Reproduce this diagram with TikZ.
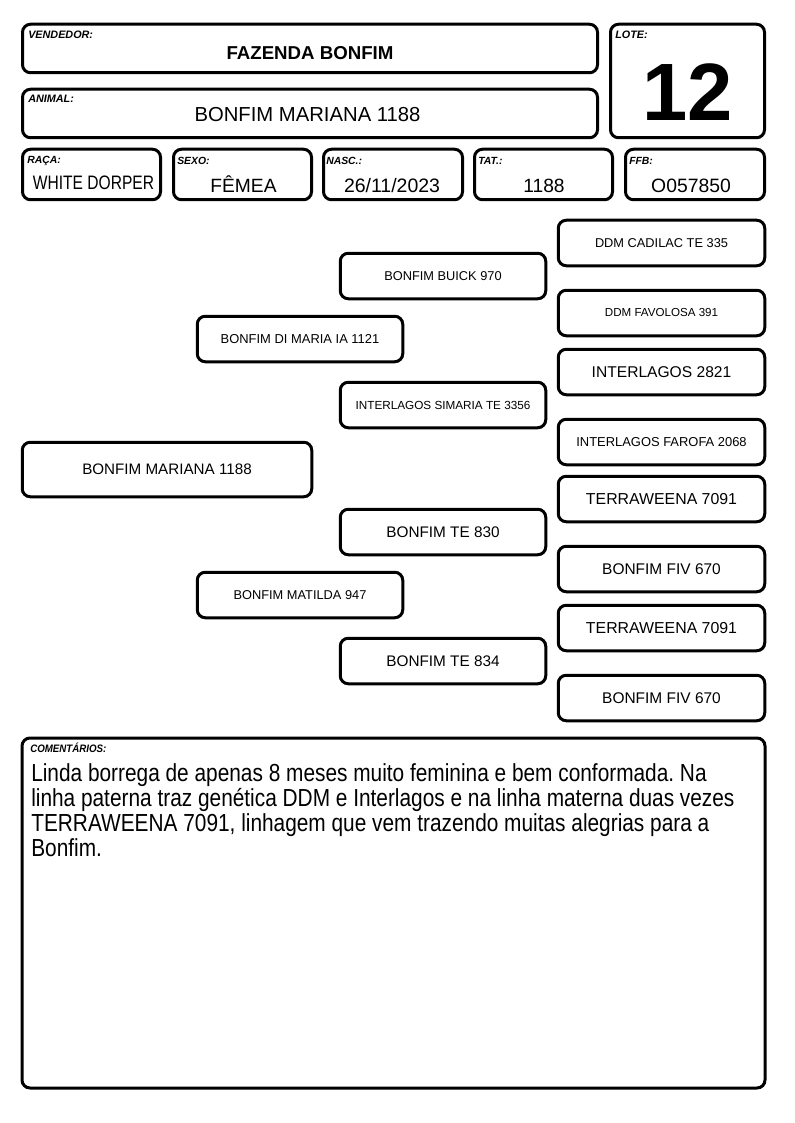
\documentclass[tikz,border=0pt]{standalone}
\usepackage{fontspec}
\setmainfont{Liberation Sans}
\frenchspacing
\newcommand{\fs}[1]{\fontsize{#1}{#1}\selectfont}
\tikzset{
  card/.style={draw, line width=2.25pt, rounded corners=6pt, inner sep=0pt, fill=white},
  wh/.style 2 args={minimum width=#1*0.75pt, minimum height=#2*0.75pt},
  lbl/.style={font=\bfseries\itshape\fs{8.1}, anchor=base west, inner sep=0pt},
  val/.style={anchor=base, inner sep=0pt},
  ped/.style={card, align=center},
}
\begin{document}
\begin{tikzpicture}[x=0.75pt, y=-0.75pt]
\useasboundingbox (0,0) rectangle (794,1123);
% header boxes
\node[card, wh={575}{48.5}] (vend) at (310,48.5) {};
\node[card, wh={575}{48.5}] (anim) at (310,113.5) {};
\node[card, wh={154}{113.5}] (lote) at (687.5,81) {};
\node[lbl] (vendl) at (28,38.5) {VENDEDOR:};
\node[lbl] (animl) at (28,102.5) {ANIMAL:};
\node[lbl] (lotel) at (615,38.5) {LOTE:};
\node[val, font=\bfseries\fs{14}] (vendv) at (310,60) {FAZENDA BONFIM};
\node[val, font=\fs{15.2}] (animv) at (307.5,122) {BONFIM MARIANA 1188};
\node[val, font=\bfseries\fs{61}] (lotev) at (688,121) {12};
% row boxes
\node[card, wh={138}{50.5}] (raca) at (91.5,174.5) {};
\node[card, wh={138}{50.5}] (sexo) at (242.5,174.5) {};
\node[card, wh={139}{50.5}] (nasc) at (393,174.5) {};
\node[card, wh={138}{50.5}] (tat) at (543.5,174.5) {};
\node[card, wh={139}{50.5}] (ffb) at (695,174.5) {};
\node[lbl, font=\bfseries\itshape\fs{7.8}] (racal) at (27,164) {RAÇA:};
\node[lbl, font=\bfseries\itshape\fs{7.8}] (sexol) at (177,164.5) {SEXO:};
\node[lbl, font=\bfseries\itshape\fs{7.8}] (nascl) at (326,164.5) {NASC.:};
\node[lbl, font=\bfseries\itshape\fs{7.8}] (tatl) at (478,164.5) {TAT.:};
\node[lbl, font=\bfseries\itshape\fs{7.8}] (ffbl) at (629,164.5) {FFB:};
\node[val, font=\fs{14.6}] (racav) at (93.5,190) {\scalebox{0.8}[1]{WHITE DORPER}};
\node[val, font=\fs{14.4}] (sexov) at (243.5,193) {FÊMEA};
\node[val, font=\fs{14.6}] (nascv) at (392,193) {26/11/2023};
\node[val, font=\fs{14.4}] (tatv) at (544,193) {1188};
\node[val, font=\fs{14.5}] (ffbv) at (691,193) {O057850};
% pedigree
\node[card, wh={289.5}{54.5}, font=\fs{11.4}] (p0) at (167,469.5) {BONFIM MARIANA 1188};
\node[ped, wh={205.5}{45.5}, font=\fs{9.7}] (p1) at (300,339) {BONFIM DI MARIA IA 1121};
\node[ped, wh={205.5}{45.5}, font=\fs{9.6}] (p2) at (300,595) {BONFIM MATILDA 947};
\node[ped, wh={205.5}{45.5}, font=\fs{9.6}] (p3) at (443,276) {BONFIM BUICK 970};
\node[ped, wh={205.5}{45.5}, font=\fs{8.8}] (p4) at (443,405) {INTERLAGOS SIMARIA TE 3356};
\node[ped, wh={205.5}{45.5}, font=\fs{11.5}] (p5) at (443,532) {BONFIM TE 830};
\node[ped, wh={205.5}{45.5}, font=\fs{11.5}] (p6) at (443,661) {BONFIM TE 834};
\node[ped, wh={206.5}{45.5}, font=\fs{9.6}] (p7) at (661.5,243) {DDM CADILAC TE 335};
\node[ped, wh={206.5}{45.5}, font=\fs{8.7}] (p8) at (661.5,313) {DDM FAVOLOSA 391};
\node[ped, wh={206.5}{45.5}, font=\fs{11.7}] (p9) at (661.5,372) {INTERLAGOS 2821};
\node[ped, wh={206.5}{45.5}, font=\fs{9.7}] (p10) at (661.5,442) {INTERLAGOS FAROFA 2068};
\node[ped, wh={206.5}{45.5}, font=\fs{11.9}] (p11) at (661.5,499) {TERRAWEENA 7091};
\node[ped, wh={206.5}{45.5}, font=\fs{11.6}] (p12) at (661.5,569) {BONFIM FIV 670};
\node[ped, wh={206.5}{45.5}, font=\fs{11.9}] (p13) at (661.5,628) {TERRAWEENA 7091};
\node[ped, wh={206.5}{45.5}, font=\fs{11.6}] (p14) at (661.5,698) {BONFIM FIV 670};
% comments
\node[card, wh={743}{350}] (com) at (393.5,913) {};
\node[lbl] (coml) at (30,752) {\scalebox{0.9}[1]{COMENTÁRIOS:}};
\node[val, anchor=base west, font=\fs{18.5}] (c1) at (31,781) {\scalebox{0.845}[1]{Linda borrega de apenas 8 meses muito feminina e bem conformada. Na}};
\node[val, anchor=base west, font=\fs{18.5}] (c2) at (31,806) {\scalebox{0.845}[1]{linha paterna traz genética DDM e Interlagos e na linha materna duas vezes}};
\node[val, anchor=base west, font=\fs{18.5}] (c3) at (31,831) {\scalebox{0.845}[1]{TERRAWEENA 7091, linhagem que vem trazendo muitas alegrias para a}};
\node[val, anchor=base west, font=\fs{18.5}] (c4) at (31,856) {\scalebox{0.845}[1]{Bonfim.}};
\end{tikzpicture}
\end{document}
